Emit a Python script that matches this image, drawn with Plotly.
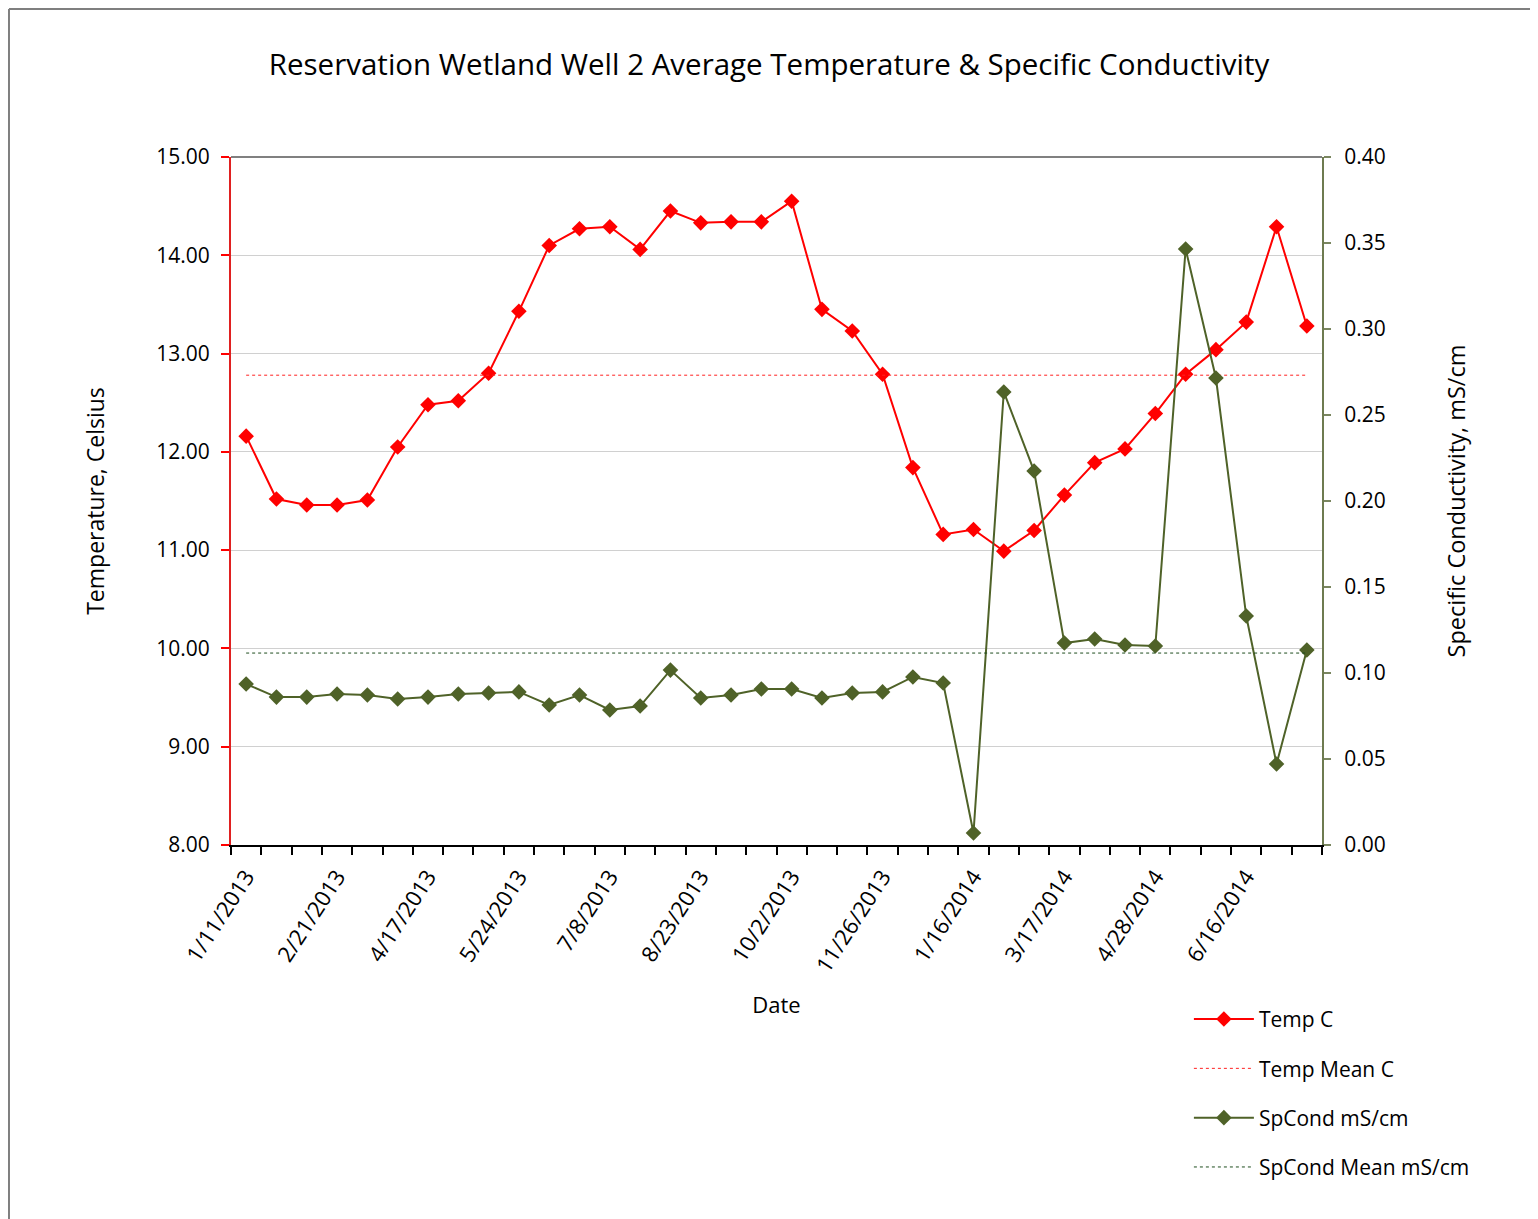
import plotly.graph_objects as go

# ---- data ----
sample_index = list(range(36))
tick_labels = ["1/11/2013", "2/21/2013", "4/17/2013", "5/24/2013", "7/8/2013",
               "8/23/2013", "10/2/2013", "11/26/2013", "1/16/2014", "3/17/2014",
               "4/28/2014", "6/16/2014"]
temp_c = [12.16, 11.52, 11.46, 11.46, 11.51, 12.05, 12.48, 12.52, 12.80, 13.43,
          14.10, 14.27, 14.29, 14.06, 14.45, 14.33, 14.34, 14.34, 14.55, 13.45,
          13.23, 12.79, 11.84, 11.16, 11.21, 10.99, 11.20, 11.56, 11.89, 12.03,
          12.39, 12.79, 13.04, 13.32, 14.29, 13.28]
spcond = [0.0936, 0.0860, 0.0860, 0.0878, 0.0872, 0.0849, 0.0860, 0.0878, 0.0884, 0.0890,
          0.0814, 0.0872, 0.0785, 0.0808, 0.1017, 0.0855, 0.0872, 0.0907, 0.0907, 0.0855,
          0.0884, 0.0890, 0.0977, 0.0942, 0.0070, 0.2634, 0.2174, 0.1174, 0.1198, 0.1163,
          0.1157, 0.3465, 0.2715, 0.1331, 0.0471, 0.1134]
temp_mean = 12.78
spcond_mean = 0.1116

RED = "#FF0000"
GREEN = "#4F6228"
FONT = "Open Sans"

fig = go.Figure()
fig.add_trace(go.Scatter(x=sample_index, y=temp_c, name="Temp C", mode="lines+markers",
                         line=dict(color=RED, width=2),
                         marker=dict(symbol="diamond", size=12, color=RED),
                         legendgroup="a", yaxis="y"))
fig.add_trace(go.Scatter(x=sample_index, y=[temp_mean] * len(sample_index), name="Temp Mean C",
                         mode="lines", line=dict(color="#FF2020", width=1, dash="dot"),
                         legendgroup="b", yaxis="y"))
fig.add_trace(go.Scatter(x=sample_index, y=spcond, name="SpCond mS/cm", mode="lines+markers",
                         line=dict(color=GREEN, width=2),
                         marker=dict(symbol="diamond", size=12, color=GREEN),
                         legendgroup="c", yaxis="y2"))
fig.add_trace(go.Scatter(x=sample_index, y=[spcond_mean] * len(sample_index), name="SpCond Mean mS/cm",
                         mode="lines", line=dict(color="#1E4D1E", width=1, dash="dot"),
                         legendgroup="d", yaxis="y2"))

boundaries = [i - 0.5 for i in range(len(sample_index) + 1)]

fig.update_layout(
    width=1530, height=1211,
    margin=dict(l=223, r=216, t=149, b=374),
    paper_bgcolor="white", plot_bgcolor="white",
    font=dict(family=FONT, color="black", size=20),
    title=dict(text="Reservation Wetland Well 2 Average Temperature & Specific Conductivity",
               x=(769 - 8) / 1530, xanchor="center", y=1 - 57 / 1211, yanchor="middle",
               font=dict(family=FONT, size=29.5, color="black")),
    xaxis=dict(range=[-0.5, 35.5], tickmode="array", tickvals=sample_index[::3],
               ticktext=tick_labels, tickangle=-57, ticks="", showgrid=False, zeroline=False,
               showline=True, linecolor="black", linewidth=2,
               tickfont=dict(size=22), ticklabelstandoff=8,
               minor=dict(tickmode="array", tickvals=boundaries, ticks="outside", ticklen=8,
                          tickwidth=1.5, tickcolor="black", showgrid=False),
               title=dict(text="Date", font=dict(size=22), standoff=21)),
    xaxis2=dict(range=[-0.5, 35.5], overlaying="x", anchor="y", side="bottom",
                tickmode="array", tickvals=boundaries, ticks="inside", ticklen=6,
                tickwidth=1.5, tickcolor="black", showticklabels=False, showgrid=False,
                zeroline=False, showline=False),
    yaxis=dict(range=[8, 15], dtick=1, tickformat=".2f", showgrid=True, gridcolor="#D0D0D0",
               gridwidth=1, zeroline=False, showline=True, linecolor="#E02020", linewidth=2,
               ticks="outside", ticklen=8, tickcolor=RED, tickwidth=1.5,
               ticklabelstandoff=7, tickfont=dict(size=21),
               title=dict(text="Temperature, Celsius", font=dict(size=23), standoff=45)),
    yaxis3=dict(range=[8, 15], dtick=1, overlaying="y", anchor="x", side="left",
                showgrid=False, zeroline=False, showline=False, showticklabels=False,
                ticks="inside", ticklen=8, tickcolor=RED, tickwidth=1.5),
    yaxis2=dict(range=[0, 0.4], dtick=0.05, tickformat=".2f", overlaying="y", side="right",
                showgrid=False, zeroline=False, showline=True, linecolor="#6E7B50", linewidth=2,
                ticks="outside", ticklen=7, tickcolor="#7A8660", tickwidth=1.5,
                ticklabelstandoff=9, tickfont=dict(size=21),
                title=dict(text="Specific Conductivity, mS/cm", font=dict(size=23.5), standoff=64)),
    yaxis4=dict(range=[0, 0.4], dtick=0.05, overlaying="y", anchor="x", side="right",
                showgrid=False, zeroline=False, showline=False, showticklabels=False,
                ticks="inside", ticklen=7, tickcolor="#7A8660", tickwidth=1.5),
    legend=dict(x=0.878, y=-0.2237, xanchor="left", yanchor="top", bgcolor="rgba(0,0,0,0)",
                font=dict(size=21), tracegroupgap=19, itemwidth=60),
    shapes=[
        dict(type="line", xref="paper", yref="paper", x0=0, x1=1, y0=1, y1=1,
             line=dict(color="#808080", width=2)),
        dict(type="line", xref="paper", yref="paper", x0=-0.2035, x1=1.25, y0=1.2151, y1=1.2151,
             line=dict(color="#7F7F7F", width=2)),
        dict(type="line", xref="paper", yref="paper", x0=-0.2035, x1=-0.2035, y0=1.2151, y1=-0.6,
             line=dict(color="#7F7F7F", width=2)),
    ],
)

fig.write_html("out.html")
